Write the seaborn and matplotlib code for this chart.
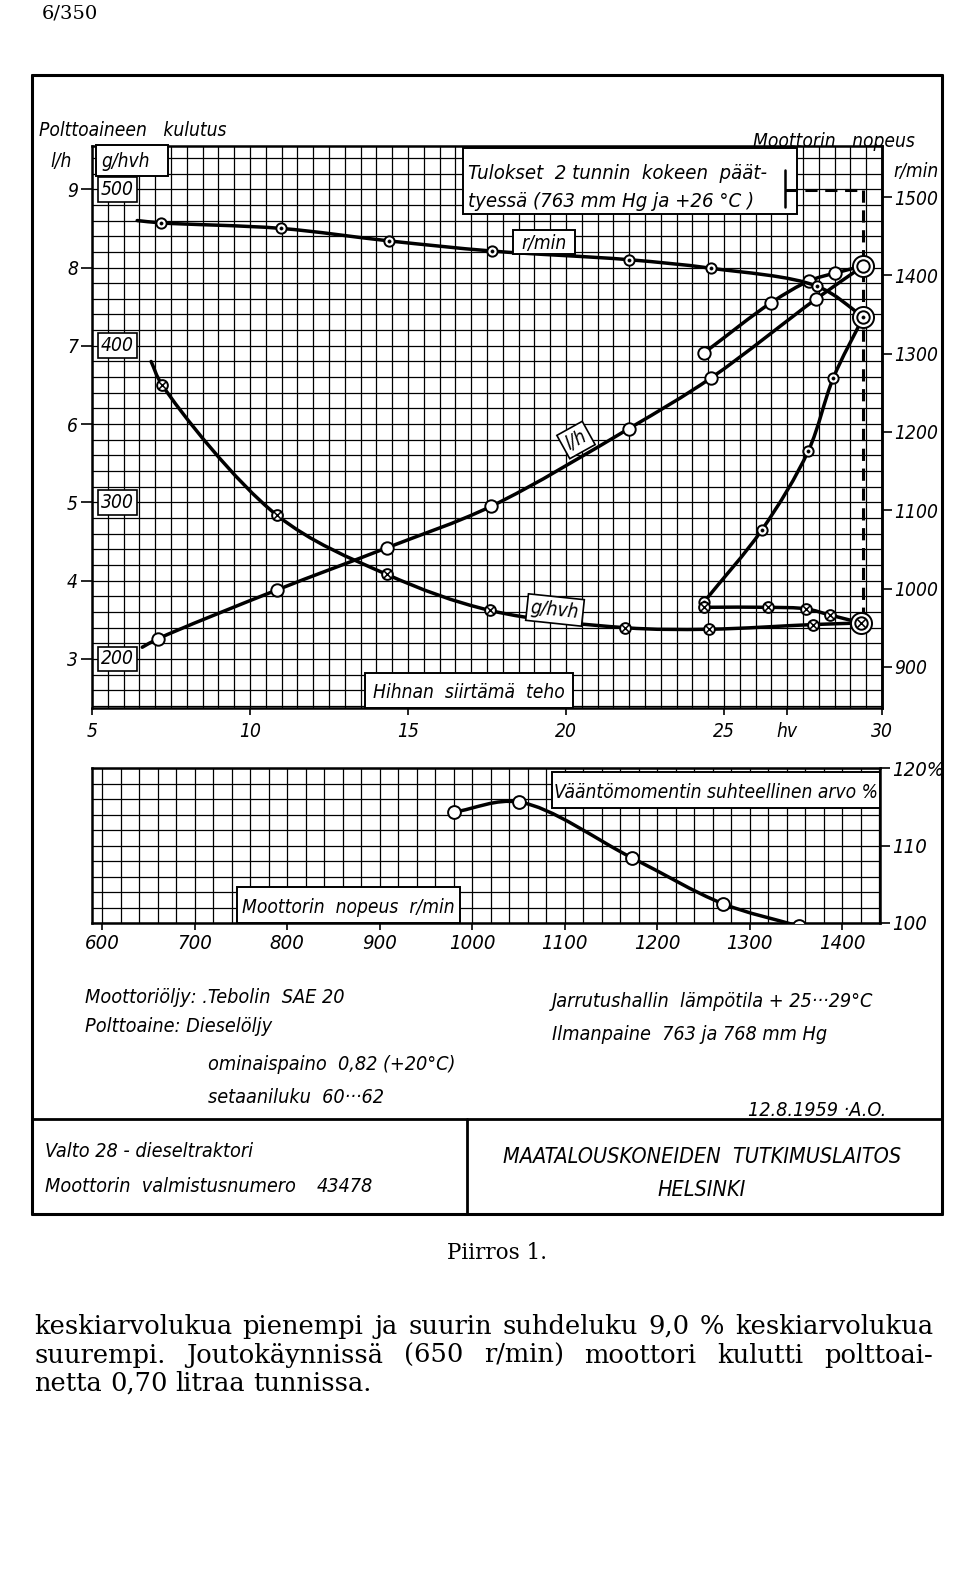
import numpy as np
import matplotlib
matplotlib.use("Agg")
import matplotlib.pyplot as plt
import seaborn as sns
from matplotlib import font_manager as fm
from matplotlib.path import Path
from matplotlib.patches import PathPatch, Rectangle
from matplotlib.lines import Line2D
from matplotlib.transforms import blended_transform_factory

W, H = 960, 1594

# --- upper chart: belt power (hv) ---
# first entry of the three main curves is where the pen stroke starts (no marker)
lh_hp = [6.59, 7.10, 10.84, 14.33, 17.63, 21.98, 24.59, 27.92, 29.41]
lh_val = [3.15, 3.26, 3.88, 4.42, 4.95, 5.94, 6.59, 7.60, 8.02]
lh_over_hp = [24.37, 26.49, 27.70, 28.52, 29.41]
lh_over_val = [6.91, 7.55, 7.83, 7.93, 8.02]

rpm_hp = [6.43, 7.19, 10.97, 14.40, 17.67, 21.98, 24.60, 27.95, 29.41]
rpm_val = [1470, 1467, 1460, 1444, 1431, 1420, 1409, 1386, 1347]
rpm_over_hp = [29.41, 28.46, 27.67, 26.20, 24.37]
rpm_over_val = [1347, 1269, 1176, 1075, 983]

ghvh_hp = [6.87, 7.22, 10.84, 14.33, 17.60, 21.86, 24.52, 27.83, 29.35]
ghvh_val = [390, 375, 292, 254, 231, 220, 219, 222, 223]
ghvh_over_hp = [24.37, 26.40, 27.60, 28.37, 29.35]
ghvh_over_val = [233, 233, 232, 228, 223]

two_hour_hp = 29.41

hp_ticks = [5, 10, 15, 20, 25, 27, 30]
hp_labels = ["5", "10", "15", "20", "25", "hv", "30"]
lh_ticks = [3, 4, 5, 6, 7, 8, 9]
rpm_ticks = [900, 1000, 1100, 1200, 1300, 1400, 1500]
g_ticks = [200, 300, 400, 500]

# --- lower chart: relative torque ---
torque_rpm = [980, 1051, 1173, 1271, 1353]
torque_pct = [114.3, 115.6, 108.4, 102.5, 99.6]
speed_ticks = [600, 700, 800, 900, 1000, 1100, 1200, 1300, 1400]
pct_ticks = [100, 110, 120]
pct_labels = ["100", "110", "120%"]

LH_LO, LH_HI = 2.374, 9.552

sns.set_theme(style="ticks")
plt.rcParams["font.family"] = ["DejaVu Sans"]
plt.rcParams["text.color"] = "black"

_names = {f.name for f in fm.fontManager.ttflist}
_files = [f.fname for f in fm.fontManager.ttflist]
if "Liberation Sans Narrow" in _names:
    NARROW, STRETCH, K = "Liberation Sans Narrow", "normal", 1.0
elif any("DejaVuSansCondensed" in f for f in _files):
    NARROW, STRETCH, K = "DejaVu Sans", "condensed", 0.86
else:
    NARROW, STRETCH, K = "DejaVu Sans", "normal", 0.8
SERIF = "DejaVu Serif"

fig = plt.figure(figsize=(W / 100, H / 100), dpi=100)
fig.patch.set_facecolor("white")


def px_axes(x0, y0, x1, y1):
    return fig.add_axes([x0 / W, 1 - y1 / H, (x1 - x0) / W, (y1 - y0) / H])


def fp(size):
    return fm.FontProperties(family=NARROW, stretch=STRETCH, style="italic", size=size * K)


def label(x, y, s, size=16, ha="left", va="baseline", **kw):
    return fig.text(x / W, 1 - y / H, s, fontproperties=fp(size), ha=ha, va=va,
                    color="black", zorder=5, **kw)


def frame_box(x0, y0, x1, y1, lw=1.4):
    fig.add_artist(Rectangle((x0 / W, 1 - y1 / H), (x1 - x0) / W, (y1 - y0) / H,
                             transform=fig.transFigure, fc="white", ec="black",
                             lw=lw, zorder=2))


def rule(x0, y0, x1, y1, lw=1.8, **kw):
    fig.add_artist(Line2D([x0 / W, x1 / W], [1 - y0 / H, 1 - y1 / H],
                          transform=fig.transFigure, color="black", lw=lw, zorder=3, **kw))


def smooth_path(axis, xs, ys, alpha=0.5):
    # centripetal Catmull-Rom through the points, as cubic Bezier, worked out in pixels
    tr = axis.transData
    P = tr.transform(np.column_stack([xs, ys]).astype(float))
    P = np.vstack([2 * P[0] - P[1], P, 2 * P[-1] - P[-2]])
    verts, codes = [P[1]], [Path.MOVETO]
    for i in range(1, len(P) - 2):
        p0, p1, p2, p3 = P[i - 1], P[i], P[i + 1], P[i + 2]
        d1 = max(np.linalg.norm(p1 - p0) ** alpha, 1e-6)
        d2 = max(np.linalg.norm(p2 - p1) ** alpha, 1e-6)
        d3 = max(np.linalg.norm(p3 - p2) ** alpha, 1e-6)
        c1 = (d1 ** 2 * p2 - d2 ** 2 * p0 + (2 * d1 ** 2 + 3 * d1 * d2 + d2 ** 2) * p1) / (3 * d1 * (d1 + d2))
        c2 = (d3 ** 2 * p1 - d2 ** 2 * p3 + (2 * d3 ** 2 + 3 * d3 * d2 + d2 ** 2) * p2) / (3 * d3 * (d3 + d2))
        verts += [c1, c2, p2]
        codes += [Path.CURVE4] * 3
    return Path(tr.inverted().transform(np.array(verts)), codes)


def stroke(axis, xs, ys, lw=2.5):
    axis.add_patch(PathPatch(smooth_path(axis, xs, ys), fill=False, ec="black", lw=lw,
                             capstyle="round", joinstyle="round", zorder=4))


def marks(axis, xs, ys, kind="open", s=70):
    sns.scatterplot(x=list(xs), y=list(ys), ax=axis, marker="o", s=s, color="white",
                    edgecolor="black", linewidth=1.4, zorder=6, legend=False)
    if kind == "dot":
        sns.scatterplot(x=list(xs), y=list(ys), ax=axis, marker="o", s=5, color="black",
                        edgecolor="black", linewidth=0.5, zorder=7, legend=False)
    elif kind == "cross":
        sns.scatterplot(x=list(xs), y=list(ys), ax=axis, marker="x", s=s * 0.5,
                        color="black", linewidth=1.1, zorder=7, legend=False)


def big(axis, x, y, kind="open"):
    marks(axis, [x], [y], "open", s=230)
    marks(axis, [x], [y], kind, s=80)


# ---------------- upper chart ----------------
ax = px_axes(92, 146, 882, 708)
ax.set_xlim(5, 30)
ax.set_ylim(LH_LO, LH_HI)
ax.set_xticks(np.arange(5, 30.01, 0.5), minor=True)
ax.set_yticks(np.arange(2.4, LH_HI, 0.2), minor=True)
ax.set_xticks(hp_ticks, hp_labels)
ax.set_yticks(lh_ticks, [str(v) for v in lh_ticks])
ax.grid(which="both", color="black", lw=0.9)
ax.tick_params(which="minor", length=0)
ax.tick_params(axis="x", which="major", length=5, width=1.2, pad=5, colors="black")
ax.tick_params(axis="y", which="major", length=8, width=1.2, pad=2, colors="black")
for t in ax.get_xticklabels() + ax.get_yticklabels():
    t.set_fontproperties(fp(16))
for sp in ax.spines.values():
    sp.set_linewidth(1.8)
    sp.set_color("black")

ax_r = ax.twinx()
ax_r.set_ylim(100 * LH_LO + 610, 100 * LH_HI + 610)
ax_r.set_yticks(rpm_ticks, [str(v) for v in rpm_ticks])
ax_r.tick_params(axis="y", length=7, width=1.2, pad=2, colors="black")
for t in ax_r.get_yticklabels():
    t.set_fontproperties(fp(16))
for name, sp in ax_r.spines.items():
    sp.set_visible(name == "right")
    sp.set_linewidth(1.8)
    sp.set_color("black")

ax_g = ax.twinx()
ax_g.set_ylim(50 * LH_LO + 50, 50 * LH_HI + 50)
ax_g.axis("off")

# curves
stroke(ax, lh_hp, lh_val)
stroke(ax, lh_over_hp, lh_over_val)
stroke(ax_r, rpm_hp, rpm_val)
stroke(ax_r, rpm_over_hp, rpm_over_val)
stroke(ax_g, ghvh_hp, ghvh_val)
stroke(ax_g, ghvh_over_hp, ghvh_over_val)

# 2-hour test line (dashed), from the legend level down to the max-power point
legend_lh = 8.99
ax.plot([two_hour_hp, two_hour_hp], [legend_lh, (ghvh_val[-1] - 50) / 50],
        color="black", lw=2.2, ls=(0, (4, 2.5)), zorder=3)

# markers
marks(ax, lh_hp[1:-1], lh_val[1:-1], "open", s=80)
marks(ax, lh_over_hp[:-1], lh_over_val[:-1], "open", s=80)
big(ax, lh_hp[-1], lh_val[-1], "open")
marks(ax_r, rpm_hp[1:-1], rpm_val[1:-1], "dot", s=55)
marks(ax_r, rpm_over_hp[1:], rpm_over_val[1:], "dot", s=55)
big(ax_r, rpm_hp[-1], rpm_val[-1], "dot")
marks(ax_g, ghvh_hp[1:-1], ghvh_val[1:-1], "cross", s=60)
marks(ax_g, ghvh_over_hp[:-1], ghvh_over_val[:-1], "cross", s=60)
big(ax_g, ghvh_hp[-1], ghvh_val[-1], "cross")

gtrans = blended_transform_factory(ax.transAxes, ax_g.transData)
for v in g_ticks:
    ax_g.text(0.011, v, str(v), transform=gtrans, fontproperties=fp(16), ha="left",
              va="center", zorder=9, color="black",
              bbox=dict(boxstyle="square,pad=0.15", fc="white", ec="black", lw=1.2))

# upper chart texts
label(39, 136, "Polttoaineen   kulutus", 16)
label(50, 167, "l/h", 16)
frame_box(96, 145, 168, 176)
label(101, 167, "g/hvh", 16)
frame_box(463, 148, 797, 214)
label(468, 179, "Tulokset  2 tunnin  kokeen  päät-", 17)
label(468, 207, "tyessä (763 mm Hg ja +26 °C )", 17)
# legend key for the dashed line (sits partly inside the box)
rule(785, 170, 785, 207, 1.8)
rule(785, 190, 863, 190, 2.2, ls=(0, (4, 2.5)))
frame_box(513, 230, 575, 254)
label(544, 249, "r/min", 16, ha="center")
label(753, 147, "Moottorin   nopeus", 16)
label(893, 177, "r/min", 16)
frame_box(365, 673, 573, 708)
label(469, 698, "Hihnan  siirtämä  teho", 16, ha="center")
label(576, 440, "l/h", 16, ha="center", va="center", rotation=29,
      bbox=dict(boxstyle="square,pad=0.2", fc="white", ec="black", lw=1.2))
label(555, 610, "g/hvh", 16, ha="center", va="center", rotation=-6,
      bbox=dict(boxstyle="square,pad=0.2", fc="white", ec="black", lw=1.2))

# ---------------- lower chart ----------------
ax2 = px_axes(92, 768, 880, 923)
ax2.set_xlim(589, 1441)
ax2.set_ylim(100, 120)
ax2.set_xticks(np.arange(600, 1441, 20), minor=True)
ax2.set_yticks(np.arange(100, 120.1, 2), minor=True)
ax2.set_xticks(speed_ticks, [str(v) for v in speed_ticks])
ax2.yaxis.tick_right()
ax2.set_yticks(pct_ticks, pct_labels)
ax2.grid(which="both", color="black", lw=0.9)
ax2.tick_params(which="minor", length=0)
ax2.tick_params(axis="x", which="major", length=5, width=1.2, pad=3, colors="black")
ax2.tick_params(axis="y", which="major", length=7, width=1.2, pad=2, colors="black",
                right=True, left=False)
for t in ax2.get_xticklabels() + ax2.get_yticklabels():
    t.set_fontproperties(fp(17))
for sp in ax2.spines.values():
    sp.set_linewidth(1.8)
    sp.set_color("black")

stroke(ax2, torque_rpm, torque_pct)
marks(ax2, torque_rpm, torque_pct, "open", s=85)

frame_box(552, 772, 880, 808)
label(716, 798, "Vääntömomentin suhteellinen arvo %", 16, ha="center")
frame_box(237, 887, 460, 923)
label(348, 913, "Moottorin  nopeus  r/min", 16, ha="center")

# ---------------- frame and title block ----------------
rule(32, 75, 942, 75, 2.2)
rule(32, 75, 32, 1214, 2.2)
rule(942, 75, 942, 1214, 2.2)
rule(32, 1214, 942, 1214, 2.2)
rule(32, 1119, 942, 1119, 2.0)
rule(467, 1119, 467, 1214, 2.0)

label(85, 1003, "Moottoriöljy: .Tebolin  SAE 20", 16.5)
label(85, 1032, "Polttoaine: Dieselöljy", 16.5)
label(208, 1070, "ominaispaino  0,82 (+20°C)", 16.5)
label(208, 1103, "setaaniluku  60···62", 16.5)
label(552, 1007, "Jarrutushallin  lämpötila + 25···29°C", 16.5)
label(552, 1040, "Ilmanpaine  763 ja 768 mm Hg", 16.5)
label(748, 1116, "12.8.1959 ·A.O.", 16.5)
label(45, 1157, "Valto 28 - dieseltraktori", 16.5)
label(45, 1192, "Moottorin  valmistusnumero", 16.5)
label(317, 1192, "43478", 16.5)
label(702, 1163, "MAATALOUSKONEIDEN  TUTKIMUSLAITOS", 18, ha="center")
label(702, 1196, "HELSINKI", 18, ha="center")

# ---------------- page text ----------------
fig.text(42 / W, 1 - 18 / H, "6/350", family=SERIF, fontsize=14, va="baseline", color="black")
fig.text(447 / W, 1 - 1259 / H, "Piirros 1.", family=SERIF, fontsize=15.5, va="baseline",
         color="black")

renderer = fig.canvas.get_renderer()


def text_width(s, size):
    t = fig.text(0, 0, s, family=SERIF, fontsize=size)
    w = t.get_window_extent(renderer).width
    t.remove()
    return w


def justify(y, text, x0, x1, size, full=True):
    words = text.split(" ")
    widths = [text_width(w, size) for w in words]
    space = text_width("a a", size) - 2 * text_width("a", size)
    gap = (x1 - x0 - sum(widths)) / (len(words) - 1) if full else space
    x = x0
    for w, wd in zip(words, widths):
        fig.text(x / W, 1 - y / H, w, family=SERIF, fontsize=size, va="baseline", color="black")
        x += wd + gap


body_size = 18.5
justify(1334, "keskiarvolukua pienempi ja suurin suhdeluku 9,0 % keskiarvolukua", 34, 933, body_size)
justify(1363, "suurempi. Joutokäynnissä (650 r/min) moottori kulutti polttoai-", 34, 933, body_size)
justify(1391, "netta 0,70 litraa tunnissa.", 34, 933, body_size, full=False)

fig.savefig("out.png", dpi=100, facecolor="white")
